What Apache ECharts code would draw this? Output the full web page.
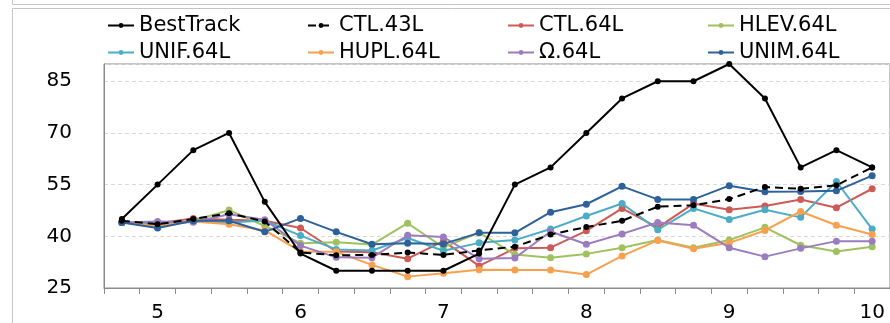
<!DOCTYPE html>
<html>
<head>
<meta charset="utf-8">
<style>
html,body{margin:0;padding:0;background:#fff;}
#chart{width:890px;height:323px;}
</style>
<script src="https://cdn.jsdelivr.net/npm/echarts/dist/echarts.min.js"></script>
</head>
<body>
<div id="chart"></div>
<script>
// time steps (day-hour), labels shown at 00 of each day
const categories = ['4-18',
  '5-00','5-06','5-12','5-18',
  '6-00','6-06','6-12','6-18',
  '7-00','7-06','7-12','7-18',
  '8-00','8-06','8-12','8-18',
  '9-00','9-06','9-12','9-18',
  '10-00'];
const yTicks = [25, 40, 55, 70, 85];

const seriesNames = ['BestTrack','CTL.43L','CTL.64L','HLEV.64L','UNIF.64L','HUPL.64L','Ω.64L','UNIM.64L'];
const seriesColors = ['#000000','#000000','#CC5B55','#9FC15E','#4BACC6','#F9A04E','#9A7CBF','#2D619A'];

const bestTrack = [45,55,65,70,50,35,30,30,30,30,35,55,60,70,80,85,85,90,80,60,65,60];
const ctl43     = [44.5,43.5,45,46.7,44.3,35.3,34.5,34.6,35.3,34.6,35.9,37,40.5,42.7,44.5,48.6,49,50.8,54.3,53.8,54.8,60];
const ctl64     = [44,43.8,45.2,44.8,44.5,42.4,35.6,35.4,33.5,38.6,31.4,36.5,36.7,41.6,48.1,42.5,49.5,47.7,48.8,50.7,48.3,53.8];
const hlev64    = [44,43.5,44.5,47.6,43,38,38.3,37.6,43.8,36.8,41.1,34.7,33.8,34.9,36.7,38.9,36.7,38.9,42.6,37.4,35.6,37];
const unif64    = [44,43.5,44.3,44,44.6,40.2,36.2,35.9,39.5,35.8,38.1,38.9,42.1,45.9,49.5,41.9,48.1,44.9,47.7,45.5,55.9,42.1];
const hupl64    = [44,43,44.3,43.5,41.7,35.6,35.5,31.7,28.3,29.3,30.3,30.2,30.2,28.9,34.3,38.8,36.4,38.1,41.7,47.2,43.2,40.5];
const omega64   = [44,44.3,44.1,46.4,44.8,37.3,33.9,33.8,40.3,39.8,33.5,33.7,41.4,37.7,40.7,44,43.2,36.7,34.1,36.5,38.6,38.6];
const unim64    = [44,42.4,44.5,44.5,41.3,45.2,41.3,37.7,38,37.8,41,41,47,49.3,54.5,50.7,50.7,54.7,52.9,53,53.2,57.6];

const dataSets = [bestTrack, ctl43, ctl64, hlev64, unif64, hupl64, omega64, unim64];

const FONT = 'DejaVu Sans';

function mkSeries(i) {
  const isBlack = i < 2;
  return {
    name: seriesNames[i],
    type: 'line',
    data: dataSets[i],
    symbol: 'circle',
    symbolSize: isBlack ? 6 : 7,
    showSymbol: true,
    z: isBlack ? 10 : 2 + i,
    lineStyle: {
      color: seriesColors[i],
      width: 2,
      type: i === 1 ? [8, 5] : 'solid'
    },
    itemStyle: { color: seriesColors[i] },
    emphasis: { disabled: true }
  };
}

// draw colored series first, black ones on top
const order = [2,3,4,5,6,7,1,0];

const chart = echarts.init(document.getElementById('chart'), null, { renderer: 'canvas' });
chart.setOption({
  animation: false,
  backgroundColor: '#ffffff',
  textStyle: { fontFamily: FONT },
  graphic: [
    { type: 'rect', silent: true, shape: { x: 12.5, y: -60, width: 900, height: 64.5 },
      style: { fill: null, stroke: '#c4c4c4', lineWidth: 1 } },
    { type: 'rect', silent: true, shape: { x: 12.5, y: 8.5, width: 900, height: 400 },
      style: { fill: null, stroke: '#c4c4c4', lineWidth: 1 } }
  ],
  legend: {
    data: seriesNames,
    left: 107,
    top: 15,
    width: 800,
    padding: 0,
    itemWidth: 26,
    itemHeight: 6,
    itemGap: 6,
    selectedMode: false,
    textStyle: {
      fontFamily: FONT,
      fontSize: 21,
      color: '#000',
      rich: { a: { width: 162, fontSize: 21, lineHeight: 20, fontFamily: FONT, color: '#000' } }
    },
    formatter: function (n) { return '{a|' + n + '}'; }
  },
  grid: {
    left: 104, right: -2, top: 64, bottom: 32,
    show: true, borderColor: '#8a8a8a', borderWidth: 1
  },
  xAxis: {
    type: 'category',
    data: categories,
    boundaryGap: true,
    axisLine: { lineStyle: { color: '#8a8a8a', width: 1 } },
    axisTick: { show: true, interval: 0, length: 6, lineStyle: { color: '#8a8a8a' } },
    axisLabel: {
      interval: function (idx) { return idx % 4 === 1; },
      formatter: function (v) { return v.split('-')[0]; },
      fontFamily: FONT, fontSize: 20, color: '#000', margin: 15
    },
    splitLine: { show: false }
  },
  yAxis: {
    type: 'value',
    min: 25, max: 90, interval: 15,
    axisLine: { show: true, lineStyle: { color: '#8a8a8a', width: 1 } },
    axisTick: { show: false },
    axisLabel: {
      showMaxLabel: false,
      formatter: function (v) { return yTicks.indexOf(v) >= 0 ? String(v) : ''; },
      fontFamily: FONT, fontSize: 20, color: '#000', margin: 32
    },
    splitLine: { show: true, lineStyle: { color: '#d9d9d9', type: [4, 3], width: 1 } }
  },
  series: order.map(mkSeries)
});
</script>
</body>
</html>
